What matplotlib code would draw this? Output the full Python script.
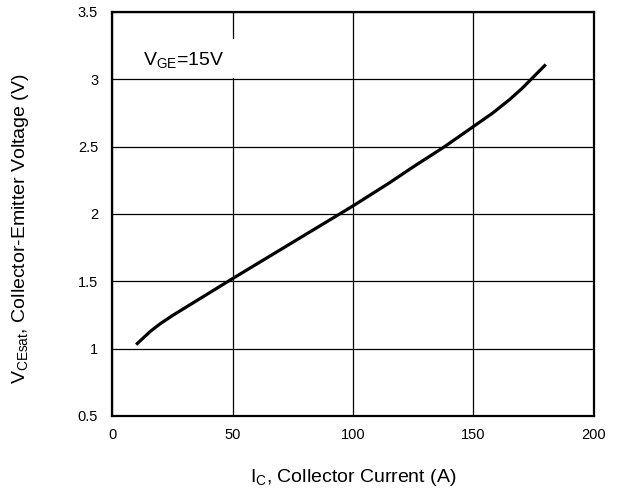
import numpy as np
import matplotlib.pyplot as plt
from matplotlib.patches import Rectangle

plt.rcParams['font.family'] = ['Liberation Sans', 'DejaVu Sans']
plt.rcParams['mathtext.fontset'] = 'custom'
plt.rcParams['mathtext.rm'] = 'Liberation Sans'

# collector current (A) vs saturation voltage (V), VGE = 15V
ic = [10, 13, 16, 20, 25, 30, 40, 50, 75, 100, 115, 125, 138, 150, 158, 165, 170, 175, 180]
vce = [1.03, 1.08, 1.13, 1.185, 1.245, 1.30, 1.41, 1.52, 1.79, 2.06, 2.23, 2.35, 2.50, 2.65, 2.75, 2.85, 2.93, 3.02, 3.11]

xticks = [0, 50, 100, 150, 200]
yticks = [0.5, 1, 1.5, 2, 2.5, 3, 3.5]
yticklabels = ["0.5", "1", "1.5", "2", "2.5", "3", "3.5"]

fig = plt.figure(figsize=(6.21, 4.93), dpi=100)
ax = fig.add_axes([0.1804, 0.1562, 0.7761, 0.8195])

ax.plot(ic, vce, color="black", linewidth=2.3, solid_capstyle="butt", zorder=4)

ax.set_xlim(0, 200)
ax.set_ylim(0.5, 3.5)
ax.set_xticks(xticks)
ax.set_yticks(yticks)
ax.set_yticklabels(yticklabels)
ax.tick_params(length=0, labelsize=10.5)
ax.tick_params(axis="y", pad=10)
ax.tick_params(axis="x", pad=9)
ax.set_axisbelow(True)
ax.grid(True, color="black", linewidth=0.9)
for s in ax.spines.values():
    s.set_linewidth(1.6)

# white patch behind the condition label (hides the grid there)
ax.add_patch(Rectangle((2, 3.008), 50, 0.29, facecolor="white", edgecolor="none", zorder=2))
ax.text(13, 3.14, r"V$_{\mathregular{GE}}$=15V", fontsize=14, va="center", ha="left", zorder=3)

ax.set_xlabel(r"I$_{\mathregular{C}}$, Collector Current (A)", fontsize=14, va="center")
ax.set_ylabel(r"V$_{\mathregular{CEsat}}$, Collector-Emitter Voltage (V)", fontsize=14, va="center")
ax.xaxis.set_label_coords(0.5, -0.153)
ax.yaxis.set_label_coords(-0.189, 0.464)

plt.savefig("out.png", dpi=100)
